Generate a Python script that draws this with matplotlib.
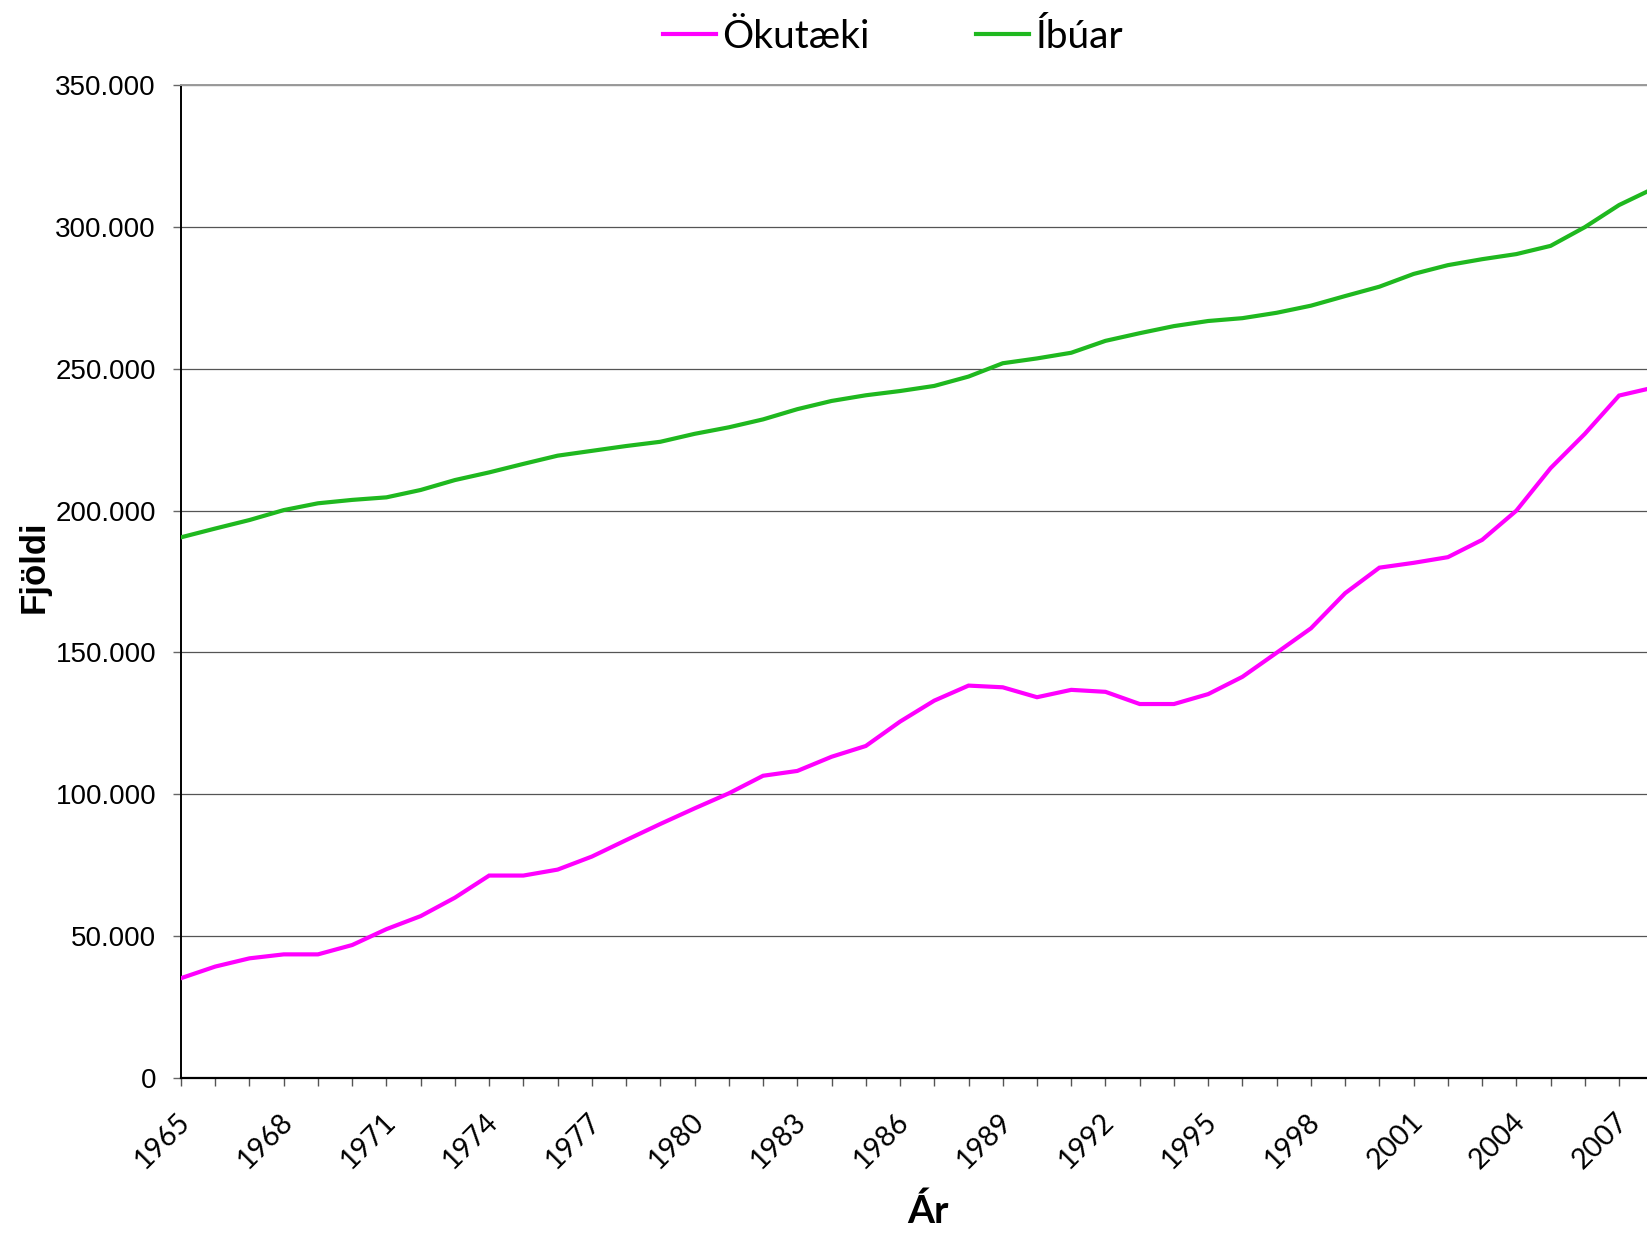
import matplotlib
matplotlib.use("Agg")
import matplotlib.pyplot as plt
from matplotlib.ticker import FixedLocator, FuncFormatter, NullFormatter

years = list(range(1965, 2009))

okutaeki = [35.1, 39.2, 42.1, 43.5, 43.5, 46.8, 52.4, 57.0, 63.5, 71.3,
            71.3, 73.4, 78.0, 83.8, 89.5, 95.0, 100.3, 106.5, 108.2, 113.2,
            117.0, 125.6, 133.0, 138.3, 137.7, 134.2, 136.8, 136.1, 131.8, 131.8,
            135.3, 141.4, 149.9, 158.5, 170.9, 179.9, 181.6, 183.6, 189.7, 200.0,
            215.0, 227.1, 240.6, 243.4]

ibuar = [190.6, 193.7, 196.7, 200.2, 202.6, 203.8, 204.7, 207.3, 210.8, 213.5,
         216.5, 219.4, 221.1, 222.8, 224.3, 227.1, 229.4, 232.2, 235.8, 238.7,
         240.7, 242.2, 244.0, 247.3, 252.0, 253.7, 255.7, 259.9, 262.6, 265.1,
         266.9, 267.9, 269.8, 272.3, 275.7, 279.0, 283.5, 286.6, 288.7, 290.5,
         293.4, 300.0, 307.8, 313.6]

okutaeki = [v * 1000 for v in okutaeki]
ibuar = [v * 1000 for v in ibuar]

series_names = ["Ökutæki", "Íbúar"]
y_ticks = list(range(0, 350001, 50000))
x_label_years = list(range(1965, 2008, 3))

W, H = 1647, 1233
fig = plt.figure(figsize=(W / 100, H / 100), dpi=100)
left = 181 / W
bottom = 1 - 1077.7 / H
top = 1 - 85.4 / H
right_px = 181 + 43 * 34.24
ax = fig.add_axes([left, bottom, (right_px - 181) / W, top - bottom])

l1, = ax.plot(years, okutaeki, color="#FF00FF", lw=3.0, label=series_names[0],
              solid_joinstyle="miter", zorder=3)
l2, = ax.plot(years, ibuar, color="#1FB81F", lw=3.0, label=series_names[1],
              solid_joinstyle="miter", zorder=3)

ax.set_xlim(1965, 2008)
ax.set_ylim(0, 350000)

ax.yaxis.set_major_locator(FixedLocator(y_ticks))
ax.yaxis.set_major_formatter(FuncFormatter(lambda v, p: f"{int(v):,}".replace(",", ".")))
ax.xaxis.set_major_locator(FixedLocator(years))
ax.xaxis.set_major_formatter(NullFormatter())

ax.grid(axis="y", color="#555555", lw=0.9, zorder=0)
ax.set_axisbelow(True)

ax.spines["right"].set_visible(False)
ax.spines["top"].set_color("#9a9a9a")
ax.spines["top"].set_linewidth(1.4)
ax.spines["left"].set_color("black")
ax.spines["left"].set_linewidth(1.4)
ax.spines["bottom"].set_color("black")
ax.spines["bottom"].set_linewidth(1.6)

ax.tick_params(axis="y", which="major", direction="out", length=6, width=1,
               color="#666666", pad=12, labelsize=20)
for lab in ax.get_yticklabels():
    lab.set_family("Liberation Sans")
ax.tick_params(axis="x", which="major", direction="out", length=6, width=1,
               color="#555555")

# rotated year labels every third year
for yr in x_label_years:
    ax.annotate(str(yr), xy=(yr, 0), xycoords=("data", "axes fraction"),
                xytext=(14, -31), textcoords="offset pixels", rotation=45,
                ha="right", va="top", family="Lato", fontsize=20.5,
                annotation_clip=False)

ax.set_ylabel("Fjöldi", family="Liberation Sans", fontweight="bold", fontsize=25)
ax.yaxis.set_label_coords(-(181 - 51) / (right_px - 181), (1077.7 - 567) / (1077.7 - 85.4))

fig.text(928 / W, 1 - 1211 / H, "Ár", family="Lato", fontweight="bold",
         fontsize=28, ha="center", va="center")

leg = fig.legend(handles=[l1, l2], loc="center", bbox_to_anchor=(893 / W, 1 - 37 / H),
                 ncol=2, frameon=False, prop={"family": "Lato", "size": 28},
                 handlelength=1.36, handletextpad=0.15, columnspacing=2.75)

fig.savefig("out.png", dpi=100)
